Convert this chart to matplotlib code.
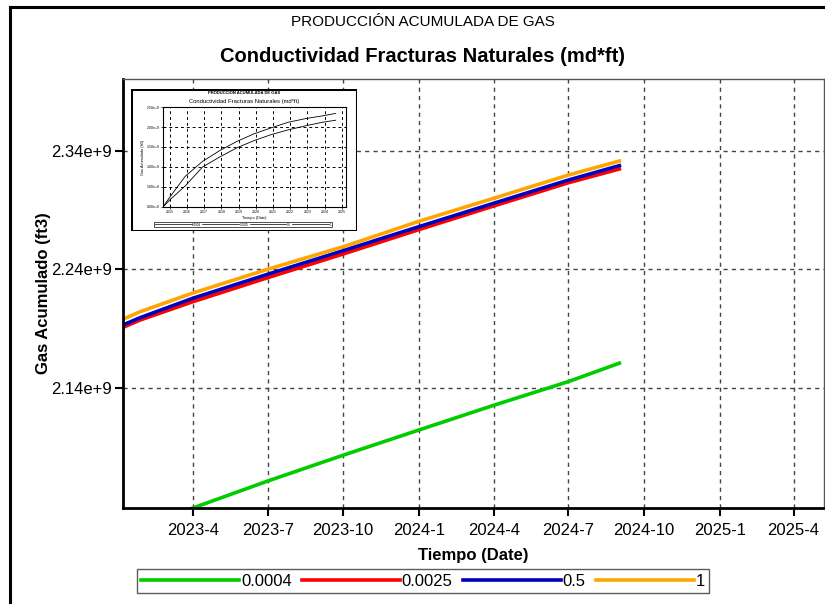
import matplotlib
matplotlib.use("Agg")
import matplotlib.pyplot as plt
import matplotlib.dates as mdates
from matplotlib.lines import Line2D
from matplotlib.patches import Rectangle
from matplotlib.ticker import FuncFormatter
import numpy as np

plt.rcParams['font.family'] = ['Liberation Sans', 'DejaVu Sans']
NARROW = ['Liberation Sans Narrow', 'Liberation Sans', 'DejaVu Sans']

# series (values in 1e9 ft3)
dates = np.array(['2023-01-01', '2023-01-27', '2023-04-01', '2023-07-01', '2023-10-01',
                  '2024-01-01', '2024-04-01', '2024-07-01', '2024-09-01'], dtype='datetime64[D]')
gas_1 = [2.1965, 2.2044, 2.2201, 2.2401, 2.2591, 2.2805, 2.2999, 2.3195, 2.3313]
gas_05 = [2.1917, 2.1994, 2.2157, 2.2359, 2.2558, 2.2760, 2.2957, 2.3153, 2.3274]
gas_00025 = [2.1897, 2.1974, 2.2128, 2.2330, 2.2530, 2.2735, 2.2934, 2.3130, 2.3246]

green_dates = np.array(['2023-01-01', '2023-04-01', '2023-07-01', '2023-10-01',
                        '2024-01-01', '2024-04-01', '2024-07-01', '2024-09-01'], dtype='datetime64[D]')
gas_00004 = [2.016, 2.039, 2.0617, 2.0835, 2.1047, 2.1255, 2.1455, 2.161]

labels = ['0.0004', '0.0025', '0.5', '1']
colors = ['#00cc00', '#ff0000', '#0000c0', '#ffa500']

ytick_vals = [2.14, 2.24, 2.34]
ytick_labels = ['2.14e+9', '2.24e+9', '2.34e+9']
xtick_dates = np.array(['2023-04-01', '2023-07-01', '2023-10-01', '2024-01-01', '2024-04-01',
                        '2024-07-01', '2024-10-01', '2025-01-01', '2025-04-01'], dtype='datetime64[D]')

# inset thumbnail (full history, years, 1e9 ft3)
inset_t = [2014.6, 2015.0, 2015.9, 2016.9, 2017.9, 2018.9, 2019.9, 2020.9, 2021.9, 2022.9, 2023.9, 2024.65]
inset_upper = [0.0, 0.25, 0.77, 1.14, 1.41, 1.64, 1.83, 1.98, 2.12, 2.21, 2.28, 2.34]
inset_lower = [0.0, 0.18, 0.53, 1.00, 1.25, 1.48, 1.66, 1.81, 1.93, 2.03, 2.12, 2.17]
inset_years = list(range(2015, 2026))

W, H = 825, 604
fig = plt.figure(figsize=(W / 100, H / 100), dpi=100)


def box(x0, y0, x1, y1):
    return [x0 / W, (H - y1) / H, (x1 - x0) / W, (y1 - y0) / H]


# figure border
fig.add_artist(Line2D([10 / W, 10 / W], [0, (H - 7) / H], color='black', lw=2.2))
fig.add_artist(Line2D([10 / W, 1], [(H - 7) / H, (H - 7) / H], color='black', lw=2.2))

ax = fig.add_axes(box(123, 79, 824, 508))
ax.plot(green_dates, gas_00004, color=colors[0], lw=2.6, label=labels[0])
ax.plot(dates, gas_00025, color=colors[1], lw=2.6, label=labels[1])
ax.plot(dates, gas_05, color=colors[2], lw=2.6, label=labels[2])
ax.plot(dates, gas_1, color=colors[3], lw=2.6, label=labels[3])

ax.set_xlim(np.datetime64('2023-01-06'), np.datetime64('2025-05-08'))
ax.set_ylim(2.039, 2.4004)
ax.set_yticks(ytick_vals)
ax.set_yticklabels(ytick_labels)
ax.set_xticks(xtick_dates)
ax.xaxis.set_major_formatter(FuncFormatter(
    lambda v, p: f"{mdates.num2date(v).year}-{mdates.num2date(v).month}"))
ax.tick_params(axis='both', labelsize=12, length=6, width=1.5, direction='out')
ax.tick_params(axis='x', pad=5)
ax.tick_params(axis='y', pad=2)
ax.grid(True, linestyle=(0, (3, 3)), color='#444444', lw=1)
for s in ['left', 'bottom']:
    ax.spines[s].set_linewidth(2)
    ax.spines[s].set_color('black')
for s in ['top', 'right']:
    ax.spines[s].set_linewidth(1)
    ax.spines[s].set_color('#555555')

ax.set_xlabel('Tiempo (Date)', fontsize=12, fontweight='bold', labelpad=7)
ax.set_ylabel('Gas Acumulado (ft3)', fontsize=12, fontweight='bold', labelpad=0)

fig.text(423 / W, (H - 22) / H, 'PRODUCCIÓN ACUMULADA DE GAS', ha='center', va='center',
         fontsize=11, family=NARROW)
fig.text(423 / W, (H - 57) / H, 'Conductividad Fracturas Naturales (md*ft)', ha='center',
         va='center', fontsize=14.5, fontweight='bold', family=NARROW)

leg = fig.legend(loc='center', bbox_to_anchor=(423 / W, (H - 581) / H), ncol=4,
                 frameon=True, fancybox=False, handlelength=5.9, handletextpad=0.1,
                 columnspacing=0.6, borderpad=0.25, prop={'family': NARROW, 'size': 12})
leg.get_frame().set_edgecolor('#333333')
leg.get_frame().set_linewidth(1)

# inset thumbnail
frame = fig.add_axes(box(131, 89, 357, 231))
frame.set_xlim(0, 1)
frame.set_ylim(0, 1)
frame.axis('off')
frame.add_patch(Rectangle((0, 0), 1, 1, transform=frame.transAxes, facecolor='white',
                          edgecolor='black', lw=2.2))
fig.text(244 / W, (H - 93) / H, 'PRODUCCIÓN ACUMULADA DE GAS', ha='center', va='center',
         fontsize=3, fontweight='bold')
fig.text(244 / W, (H - 101) / H, 'Conductividad Fracturas Naturales (md*ft)', ha='center',
         va='center', fontsize=4.2)

ins = fig.add_axes(box(163, 107, 346, 207))
ins.plot(inset_t, inset_lower, color='black', lw=0.6)
ins.plot(inset_t, inset_upper, color='black', lw=0.6)
ins.set_xlim(2014.6, 2025.25)
ins.set_ylim(0, 2.5)
ins.set_yticks([0, 0.5, 1.0, 1.5, 2.0, 2.5])
ins.set_yticklabels(['0.00e+0', '5.00e+8', '1.00e+9', '1.50e+9', '2.00e+9', '2.50e+9'])
ins.set_xticks(inset_years)
ins.set_xticklabels([str(y) for y in inset_years])
ins.tick_params(labelsize=2.5, length=1.5, width=0.5, pad=1)
ins.grid(True, linestyle=(0, (3, 3)), color='black', lw=0.7)
for s in ins.spines.values():
    s.set_linewidth(0.8)
ins.set_xlabel('Tiempo (Date)', fontsize=2.8, labelpad=1)
ins.set_ylabel('Gas Acumulado (ft3)', fontsize=2.8, labelpad=1)
ins_handles = [Line2D([], [], color='black', lw=0.5) for _ in labels]
il = ins.legend(ins_handles, labels, loc='center', bbox_to_anchor=(243 / W, (H - 224.5) / H),
                bbox_transform=fig.transFigure, ncol=4, fontsize=2.2, frameon=True,
                fancybox=False, handlelength=12, handletextpad=0.2, columnspacing=0.3,
                borderpad=0.2)
il.get_frame().set_edgecolor('black')
il.get_frame().set_linewidth(0.6)

fig.savefig('out.png', dpi=100)
